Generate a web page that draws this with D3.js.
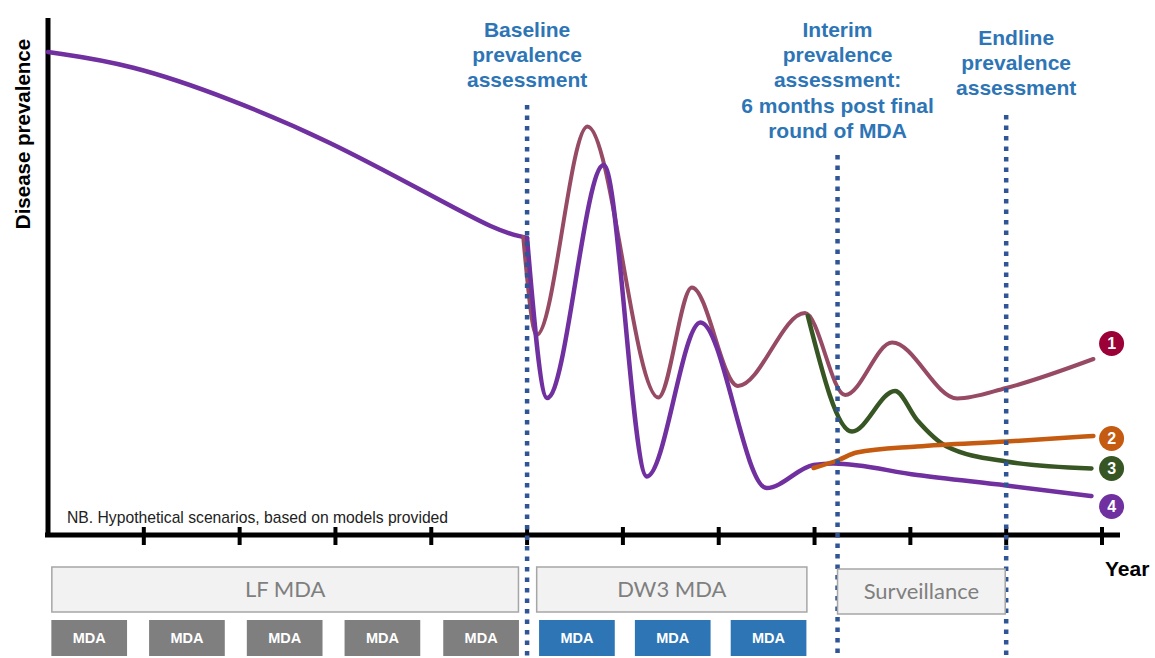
<!DOCTYPE html>
<html>
<head>
<meta charset="utf-8">
<script src="https://cdn.jsdelivr.net/npm/d3@7"></script>
<style>
  body { margin: 0; background: #fff; }
  svg { display: block; font-family: "Liberation Sans", Arial, sans-serif; }
</style>
</head>
<body>
<div id="chart"></div>
<script>
// dimensions
const width = 1155;
const height = 658;

// scenario curves: [year, prevalence]
const lfCurve = [[0, 96.6], [0.86, 94.2], [1.9, 87.3], [2.94, 78.8], [3.99, 68], [4.69, 60.8], [4.96, 59.6], [5.0, 59.4]];
const scenario4 = [[5.0, 59.4], [5.21, 27.4], [5.8, 74], [6.25, 11.7], [6.81, 42.5], [7.5, 9.4], [7.99, 14], [8.2, 14.3], [9.07, 12.0], [10.0, 9.9], [10.89, 7.8]];
const scenario1 = [[4.96, 59.6], [5.1, 40], [5.63, 81.7], [6.37, 27.5], [6.72, 49.5], [7.2, 29.8], [7.9, 44.4], [8.32, 28], [8.81, 38.5], [9.49, 27.3], [10.0, 29.4], [10.91, 35.2]];
const scenario3 = [[7.93, 43.8], [8.39, 20.7], [8.84, 28.8], [9.07, 23], [9.38, 17.7], [10.0, 14.7], [10.89, 13.3]];
const scenario2 = [[7.99, 13.4], [8.25, 15], [8.44, 16.5], [9.07, 17.7], [10.0, 18.7], [10.91, 19.8]];

// numbered end markers
const markerLabels = ["1", "2", "3", "4"];
const markerValues = [38.3, 19.3, 13.3, 5.7];
const markerYear = 11.1;

// assessments (dotted lines)
const assessYears = [5.0, 8.24, 10.0];
const assessTops = [86, 76, 84];
const assessLabels = [
  ["Baseline", "prevalence", "assessment"],
  ["Interim", "prevalence", "assessment:", "6 months post final", "round of MDA"],
  ["Endline", "prevalence", "assessment"]
];
const assessLabelTop = [37, 37, 45];

// programme phases
const phaseNames = ["LF MDA", "DW3 MDA", "Surveillance"];
const phaseSpans = [[0.04, 4.91], [5.1, 7.92], [8.24, 9.99]];
const lfRounds = [0.43, 1.45, 2.47, 3.49, 4.52];
const dw3Rounds = [5.52, 6.52, 7.52];

const tickYears = d3.range(1, 12);

const svg = d3.select("#chart").append("svg").attr("width", width).attr("height", height);

// scales
const x = d3.scaleLinear().domain([0, 11]).range([48, 1102]);
const y = d3.scaleLinear().domain([0, 100]).range([535, 35]);

const line = d3.line().x(d => x(d[0])).y(d => y(d[1])).curve(d3.curveMonotoneX);
const smoothLine = d3.line().x(d => x(d[0])).y(d => y(d[1])).curve(d3.curveBasis);

// axes
svg.append("line").attr("x1", x(0)).attr("x2", x(0)).attr("y1", y(103.4)).attr("y2", y(0) + 2)
  .attr("stroke", "#000").attr("stroke-width", 5);
const xAxis = d3.axisBottom(x).tickValues(tickYears).tickSize(0).tickFormat("");
svg.append("g").attr("transform", `translate(0, ${y(0)})`).call(xAxis)
  .call(g => g.select(".domain").attr("d", `M${x(0) - 3},0H1120`).attr("stroke", "#000").attr("stroke-width", 5));
svg.append("g").selectAll("line").data(tickYears).enter().append("line")
  .attr("x1", d => x(d)).attr("x2", d => x(d))
  .attr("y1", y(0) - 8).attr("y2", y(0) + 10)
  .attr("stroke", "#000").attr("stroke-width", 4);

// axis labels
svg.append("text").attr("transform", "translate(30, 134) rotate(-90)").attr("text-anchor", "middle")
  .style("font-size", "20.5px").style("font-weight", "bold").text("Disease prevalence");
svg.append("text").attr("x", 1105).attr("y", 576)
  .style("font-size", "21px").style("font-weight", "bold").text("Year");

svg.append("text").attr("x", 67).attr("y", 523).style("font-size", "15.7px").attr("fill", "#222")
  .text("NB. Hypothetical scenarios, based on models provided");

// curves
const curves = [
  { data: lfCurve, color: "#7030a0", w: 4.5, gen: smoothLine },
  { data: scenario1, color: "#964a63", w: 4, gen: line },
  { data: scenario4, color: "#7030a0", w: 4.5, gen: line },
  { data: scenario3, color: "#375623", w: 4.5, gen: line },
  { data: scenario2, color: "#c55a11", w: 4.5, gen: line }
];
svg.append("g").selectAll("path").data(curves).enter().append("path")
  .attr("d", d => d.gen(d.data))
  .attr("fill", "none")
  .attr("stroke", d => d.color)
  .attr("stroke-width", d => d.w)
  .attr("stroke-linecap", "round");

// dotted assessment lines
svg.append("g").selectAll("line").data(assessYears).enter().append("line")
  .attr("x1", d => x(d)).attr("x2", d => x(d))
  .attr("y1", (d, i) => y(assessTops[i])).attr("y2", height)
  .attr("stroke", "#2f5597").attr("stroke-width", 4.5).attr("stroke-dasharray", "4.5,6");

// assessment labels
assessLabels.forEach((lines, i) => {
  const t = svg.append("text").attr("text-anchor", "middle").attr("fill", "#2e75b6")
    .style("font-size", "21px").style("font-weight", "bold");
  lines.forEach((s, j) => {
    t.append("tspan").attr("x", x(assessYears[i]) + (i === 2 ? 10 : 0)).attr("y", assessLabelTop[i] + j * 25.2).text(s);
  });
});

// numbered markers
const markerColors = ["#9b0037", "#c55a11", "#375623", "#7030a0"];
const mk = svg.append("g").selectAll("g").data(markerLabels).enter().append("g")
  .attr("transform", (d, i) => `translate(${x(markerYear)}, ${y(markerValues[i])})`);
mk.append("circle").attr("r", 12.5).attr("fill", (d, i) => markerColors[i]);
mk.append("text").attr("text-anchor", "middle").attr("dy", "0.36em").attr("fill", "#fff")
  .style("font-size", "16px").style("font-weight", "bold").text(d => d);

// phase boxes
const phaseTop = [567, 567, 569];
const phaseH = [45, 45, 45];
svg.append("g").selectAll("rect").data(phaseSpans).enter().append("rect")
  .attr("x", d => x(d[0])).attr("width", d => x(d[1]) - x(d[0]))
  .attr("y", (d, i) => phaseTop[i]).attr("height", (d, i) => phaseH[i])
  .attr("fill", "#f2f2f2").attr("stroke", "#a6a6a6").attr("stroke-width", 1.5);
svg.append("g").selectAll("text").data(phaseNames).enter().append("text")
  .attr("x", (d, i) => (x(phaseSpans[i][0]) + x(phaseSpans[i][1])) / 2)
  .attr("y", (d, i) => phaseTop[i] + phaseH[i] / 2 + 7)
  .attr("text-anchor", "middle").attr("fill", "#7f7f7f")
  .style("font-family", "Lato, sans-serif").style("font-size", "22px").text(d => d);

// MDA round boxes
const rounds = lfRounds.map(d => ({ t: d, c: "#7f7f7f" })).concat(dw3Rounds.map(d => ({ t: d, c: "#2e75b6" })));
const rw = x(0.79) - x(0);
const rg = svg.append("g").selectAll("g").data(rounds).enter().append("g");
rg.append("rect").attr("x", d => x(d.t) - rw / 2).attr("y", 620).attr("width", rw).attr("height", 36).attr("fill", d => d.c);
rg.append("text").attr("x", d => x(d.t)).attr("y", 643).attr("text-anchor", "middle").attr("fill", "#fff")
  .style("font-size", "14.5px").style("font-weight", "bold").text("MDA");
</script>
</body>
</html>
